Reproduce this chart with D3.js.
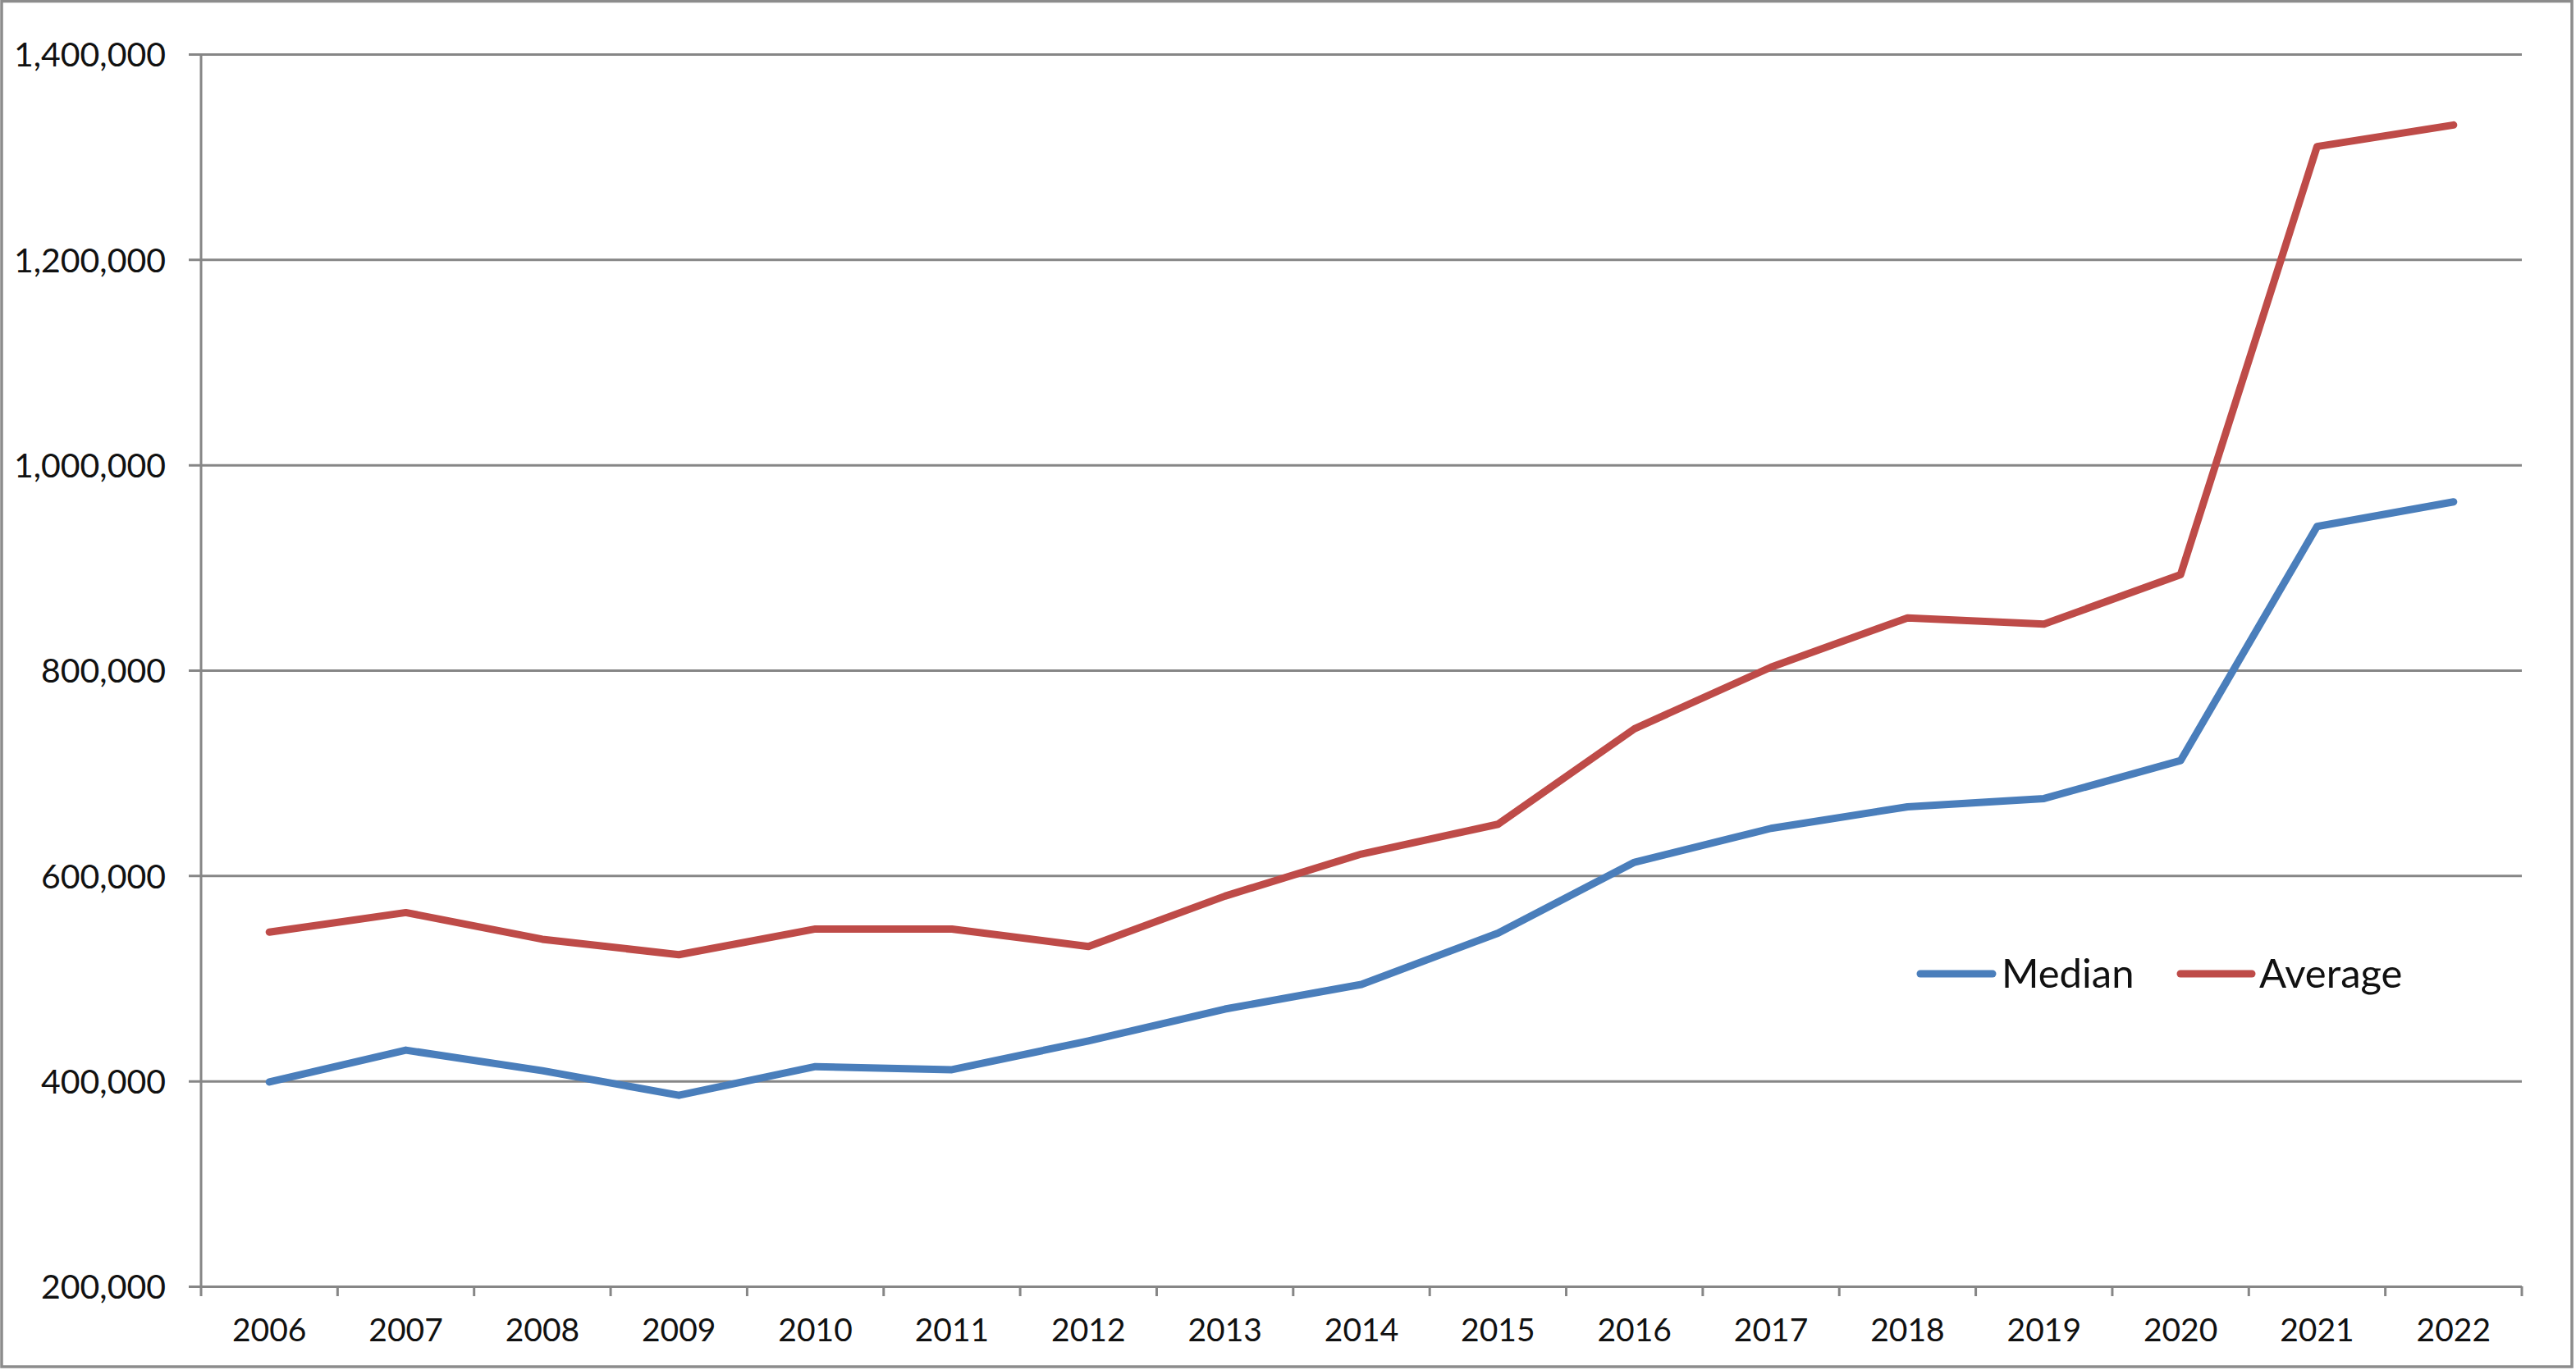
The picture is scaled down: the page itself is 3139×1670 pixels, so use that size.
<!DOCTYPE html>
<html>
<head>
<meta charset="utf-8">
<script src="https://cdn.jsdelivr.net/npm/d3@7"></script>
<style>
  html, body { margin: 0; padding: 0; background: #ffffff; }
  svg { display: block; }
  text { font-family: Lato, "Open Sans", "DejaVu Sans", sans-serif; fill: #111111; }
</style>
</head>
<body>
<svg id="chart" width="3139" height="1670"></svg>
<script>
const years = ["2006","2007","2008","2009","2010","2011","2012","2013","2014","2015","2016","2017","2018","2019","2020","2021","2022"];
const medianValues = [399000, 430000, 410000, 386000, 414000, 411000, 439000, 470000, 494000, 544000, 613000, 646000, 667000, 675000, 712000, 940000, 964000];
const averageValues = [545000, 564000, 538000, 523000, 548000, 548000, 531000, 580000, 621000, 650000, 743000, 803000, 851000, 845000, 893000, 1310000, 1331000];
const yTicks = [200000, 400000, 600000, 800000, 1000000, 1200000, 1400000];
const seriesNames = ["Median", "Average"];
const seriesColors = ["#4a7ebb", "#be4b48"];

const W = 3139, H = 1670;
const plot = { left: 245, right: 3073, top: 66, bottom: 1568 };

const svg = d3.select("#chart");

// outer frame
svg.append("rect")
  .attr("x", 2).attr("y", 1.5)
  .attr("width", 3132).attr("height", 1664.5)
  .attr("fill", "#ffffff")
  .attr("stroke", "#8c8c8c")
  .attr("stroke-width", 3.5);

const x = d3.scaleBand().domain(years).range([plot.left, plot.right]).padding(0);
const y = d3.scaleLinear().domain([200000, 1400000]).range([plot.bottom, plot.top]);
const cx = d => x(d) + x.bandwidth() / 2;

const gridColor = "#868686";

// horizontal gridlines + y ticks/labels
const yAxis = d3.axisLeft(y)
  .tickValues(yTicks)
  .tickFormat(d3.format(","))
  .tickSizeInner(-(plot.right - plot.left))
  .tickSizeOuter(0)
  .tickPadding(43);
const gy = svg.append("g").attr("transform", `translate(${plot.left},0)`).call(yAxis);
gy.select(".domain").remove();
gy.selectAll(".tick line")
  .attr("x1", -15)
  .attr("stroke", gridColor)
  .attr("stroke-width", 3);
gy.selectAll(".tick text")
  .attr("font-size", 41)
  .attr("font-family", "Lato, 'Open Sans', sans-serif")
  .attr("fill", "#111111")
  .attr("dy", "0.36em");

// y axis line (extends slightly below x axis, like first tick)
svg.append("line")
  .attr("x1", plot.left).attr("x2", plot.left)
  .attr("y1", plot.top).attr("y2", plot.bottom + 12)
  .attr("stroke", gridColor).attr("stroke-width", 3);

// x axis labels
const xAxis = d3.axisBottom(x).tickSize(0).tickPadding(39);
const gx = svg.append("g").attr("transform", `translate(0,${plot.bottom})`).call(xAxis);
gx.select(".domain").remove();
gx.selectAll(".tick text")
  .attr("font-size", 39)
  .attr("font-family", "Lato, 'Open Sans', sans-serif")
  .attr("fill", "#111111");

// x tick marks at category boundaries
const boundaries = years.map(d => x(d)).concat([x(years[years.length - 1]) + x.bandwidth()]);
svg.append("g").selectAll("line")
  .data(boundaries.slice(1))
  .join("line")
  .attr("x1", d => d).attr("x2", d => d)
  .attr("y1", plot.bottom).attr("y2", plot.bottom + 12)
  .attr("stroke", gridColor).attr("stroke-width", 3);

// series lines
const line = d3.line().x(d => cx(d.year)).y(d => y(d.value));
const seriesData = [medianValues, averageValues].map((vals, i) => ({
  name: seriesNames[i],
  color: seriesColors[i],
  points: years.map((yr, j) => ({ year: yr, value: vals[j] }))
}));

svg.append("g").selectAll("path")
  .data(seriesData)
  .join("path")
  .attr("d", d => line(d.points))
  .attr("fill", "none")
  .attr("stroke", d => d.color)
  .attr("stroke-width", 9)
  .attr("stroke-linejoin", "round")
  .attr("stroke-linecap", "round");

// legend
const legendItems = [
  { x0: 2340, x1: 2428, tx: 2439 },
  { x0: 2657, x1: 2744, tx: 2753 }
];
const legendY = 1187;
const lg = svg.append("g");
seriesData.forEach((s, i) => {
  const it = legendItems[i];
  lg.append("line")
    .attr("x1", it.x0).attr("x2", it.x1)
    .attr("y1", legendY).attr("y2", legendY)
    .attr("stroke", s.color).attr("stroke-width", 9)
    .attr("stroke-linecap", "round");
  lg.append("text")
    .attr("x", it.tx).attr("y", legendY + 17)
    .attr("font-size", 49)
    .attr("fill", "#111111")
    .text(s.name);
});
</script>
</body>
</html>
